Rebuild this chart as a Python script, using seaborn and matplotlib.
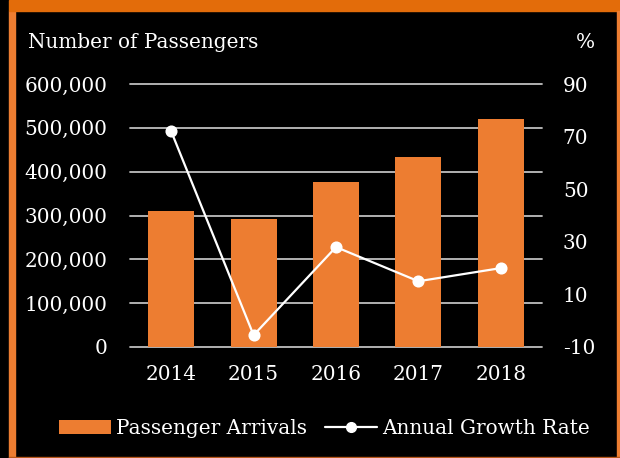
import matplotlib
matplotlib.use("Agg")
import matplotlib.pyplot as plt
import seaborn as sns
import pandas as pd
from matplotlib.patches import Rectangle, Patch
from matplotlib.lines import Line2D
from matplotlib.ticker import FuncFormatter

# values
years = ["2014", "2015", "2016", "2017", "2018"]
arrivals = [310000, 293000, 376000, 433000, 520000]
growth = [72.0, -5.5, 28.0, 15.0, 20.0]

df = pd.DataFrame({"Year": years, "Arrivals": arrivals, "Growth": growth})

sns.set_theme(style="dark")
plt.rcParams["font.family"] = ["DejaVu Serif"]
plt.rcParams["axes.unicode_minus"] = False

orange = "#ED7D31"
band = "#E36C0A"
grid = "#BFBFBF"
fs = 14.4

fig = plt.figure(figsize=(6.2, 4.58), dpi=100, facecolor="black")
ax = fig.add_axes([130 / 620, 1 - 347 / 458, 412 / 620, 263 / 458])
ax.set_facecolor("none")

sns.barplot(data=df, x="Year", y="Arrivals", color=orange, width=0.56,
            saturation=1, edgecolor="none", ax=ax, zorder=2)
ax.set_ylim(0, 600000)
ax.set_yticks(range(0, 600001, 100000))
ax.yaxis.set_major_formatter(FuncFormatter(lambda v, p: f"{int(v):,}"))
ax.set_xlim(-0.5, 4.5)
ax.set_xlabel("")
ax.set_ylabel("")
ax.grid(axis="y", color=grid, linewidth=1.3, zorder=0)
ax.grid(axis="x", visible=False)
for gl in ax.get_ygridlines():
    gl.set_clip_on(False)
ax.tick_params(axis="y", length=0, pad=16.5, labelsize=fs, labelcolor="white")
ax.tick_params(axis="x", length=0, pad=13, labelsize=fs, labelcolor="white")
for s in ax.spines.values():
    s.set_visible(False)
ax.set_axisbelow(True)

ax2 = ax.twinx()
ax2.set_facecolor("none")
sns.pointplot(data=df, x="Year", y="Growth", color="white", markers="o",
              markersize=7.5, linewidth=1.6, ax=ax2)
ax2.set_ylim(-10, 90)
ax2.set_yticks(range(-10, 91, 20))
ax2.set_xlim(-0.5, 4.5)
ax2.set_ylabel("")
ax2.set_xlabel("")
ax2.grid(False)
ax2.tick_params(axis="y", length=0, pad=15, labelsize=fs, labelcolor="white")
for s in ax2.spines.values():
    s.set_visible(False)

fig.text(28 / 620, 1 - 42 / 458, "Number of Passengers", color="white",
         fontsize=fs, ha="left", va="center")
fig.text(595 / 620, 1 - 42 / 458, "%", color="white",
         fontsize=fs, ha="right", va="center")

handles = [Patch(facecolor=orange, edgecolor="none"),
           Line2D([0], [0], color="white", lw=1.6, marker="o", markersize=7)]
fig.legend(handles, ["Passenger Arrivals", "Annual Growth Rate"], ncol=2,
           loc="center", bbox_to_anchor=(0.523, 1 - 428 / 458), frameon=False,
           fontsize=fs, labelcolor="white", handlelength=2.6,
           handletextpad=0.25, columnspacing=0.9)

# orange frame around the chart
fig.patches.append(Rectangle((9 / 620, 0), 6 / 620, 1 - 11 / 458,
                             transform=fig.transFigure, color=orange, zorder=0))
fig.patches.append(Rectangle((9 / 620, 1 - 11 / 458), 611 / 620, 11 / 458,
                             transform=fig.transFigure, color=band, zorder=0))
fig.patches.append(Rectangle((617 / 620, 0), 3 / 620, 1 - 11 / 458,
                             transform=fig.transFigure, color=orange, zorder=0))
fig.patches.append(Rectangle((9 / 620, 0), 611 / 620, 1.5 / 458,
                             transform=fig.transFigure, color="#B8581A", zorder=0))

fig.savefig("out.png", dpi=100, facecolor="black")
